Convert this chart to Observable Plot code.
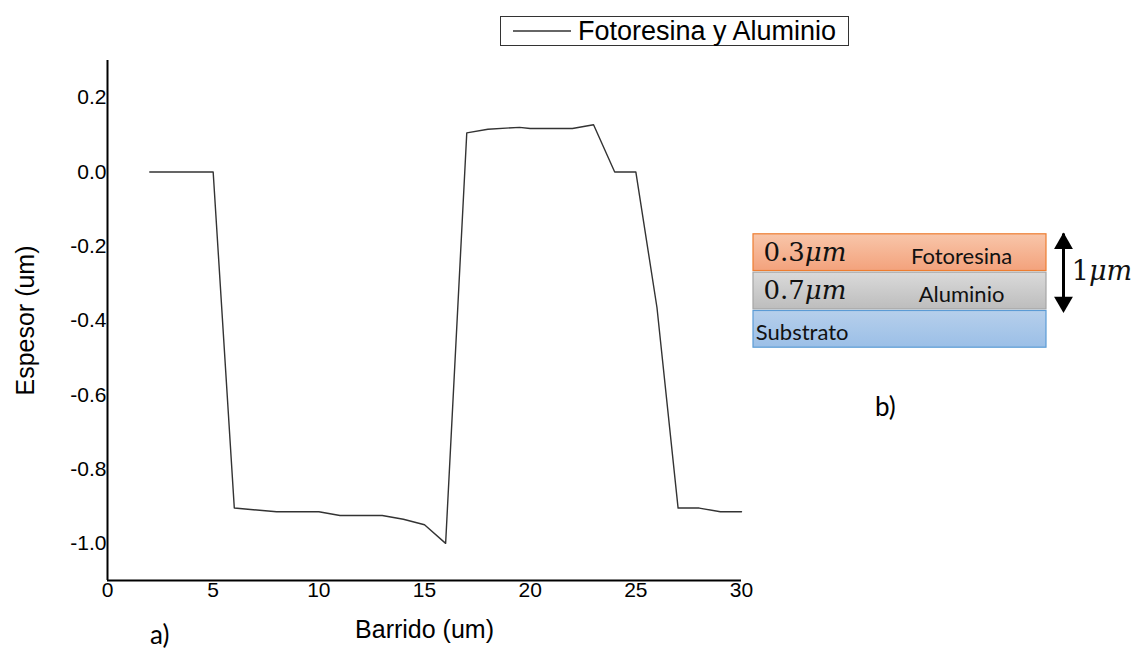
<!DOCTYPE html>
<html>
<head>
<meta charset="utf-8">
<script src="https://cdn.jsdelivr.net/npm/d3@7"></script>
<script src="https://cdn.jsdelivr.net/npm/@observablehq/plot@0.6"></script>
<style>
  html, body { margin: 0; padding: 0; background: #fff; }
  #wrap { position: relative; width: 1142px; height: 650px; overflow: hidden; font-family: "Liberation Sans", Arial, sans-serif; }
  #main, #diagram { position: absolute; }
  #main { left: 0; top: 0; }
  #diagram { left: 740px; top: 220px; }
  #legend { position: absolute; left: 500px; top: 16px; width: 347px; height: 28px; border: 1px solid #333; box-sizing: content-box; background: #fff; }
  #legend svg { position: absolute; left: 12px; top: 0; }
  #legend span { position: absolute; left: 77px; top: -1px; font-size: 27px; line-height: 30px; color: #000; white-space: nowrap; }
  .tag { position: absolute; font-family: Lato, "Noto Sans", sans-serif; font-size: 26px; color: #000; }
</style>
</head>
<body>
<div id="wrap">
  <div id="main"></div>
  <div id="diagram"></div>
  <div id="legend"><svg width="60" height="28"><line x1="0" x2="58" y1="14" y2="14" stroke="#333" stroke-width="1.3"/></svg><span id="legendText"></span></div>
  <div class="tag" id="tagA" style="left:150px; top:618px;"></div>
  <div class="tag" id="tagB" style="left:875px; top:390px;"></div>
</div>
<script>
// ---- data: profile scan ----
const seriesName = "Fotoresina y Aluminio";
const barrido = [2, 3, 4, 5, 6, 8, 10, 11, 13, 14, 15, 16, 17, 18, 19.5, 20, 22, 23, 24, 25, 26, 27, 28, 29, 30];
const espesor = [0, 0, 0, 0, -0.905, -0.915, -0.915, -0.925, -0.925, -0.935, -0.95, -1.0, 0.105, 0.115, 0.12, 0.117, 0.117, 0.127, 0, 0, -0.365, -0.905, -0.905, -0.915, -0.915];
const xTicks = [0, 5, 10, 15, 20, 25, 30];
const yTicks = [-1.0, -0.8, -0.6, -0.4, -0.2, 0.0, 0.2];
const xLabel = "Barrido (um)";
const yLabel = "Espesor (um)";

// ---- data: layer diagram ----
const layerNames = ["Fotoresina", "Aluminio", "Substrato"];
const layerThickness = ["0.3", "0.7", ""];
const totalLabel = "1";
const unitLabel = "μm";
const panelTags = ["a)", "b)"];

const profile = barrido.map((x, i) => ({x, y: espesor[i]}));

const main = Plot.plot({
  width: 1142,
  height: 650,
  marginLeft: 107,
  marginRight: 401,
  marginTop: 60,
  marginBottom: 70,
  style: {fontFamily: '"Liberation Sans", Arial, sans-serif', background: "transparent"},
  x: {domain: [0, 30]},
  y: {domain: [-1.1, 0.3]},
  marks: [
    Plot.axisX({ticks: xTicks, tickSize: 0, tickPadding: 2, fontSize: 21, label: null, tickFormat: d => String(d), color: "#000"}),
    Plot.axisY({ticks: yTicks, tickSize: 0, tickPadding: 1, fontSize: 21, label: null, tickFormat: d => d.toFixed(1), color: "#000"}),
    Plot.line(profile, {x: "x", y: "y", stroke: "#333", strokeWidth: 1.4}),
    Plot.ruleX([0], {stroke: "#000", strokeWidth: 2}),
    Plot.ruleY([-1.1], {stroke: "#000", strokeWidth: 2}),
    Plot.text([xLabel], {frameAnchor: "bottom", lineAnchor: "middle", textAnchor: "middle", dy: 49, fontSize: 25, fill: "#000"}),
    Plot.text([yLabel], {frameAnchor: "left", lineAnchor: "middle", textAnchor: "middle", dx: -82, rotate: -90, fontSize: 25, fill: "#000"})
  ]
});
document.getElementById("main").appendChild(main);
document.getElementById("legendText").textContent = seriesName;
document.getElementById("tagA").textContent = panelTags[0];
document.getElementById("tagB").textContent = panelTags[1];

// layer diagram
const layers = layerNames.map((name, i) => ({name, i, t: layerThickness[i]}));
const fillOf = {Fotoresina: "url(#gFoto)", Aluminio: "url(#gAlu)", Substrato: "url(#gSub)"};
const strokeOf = {Fotoresina: "#ed7d31", Aluminio: "#a5a5a5", Substrato: "#5b9bd5"};
const stackTop = 0;
const stackBottom = layers.filter(d => d.t !== "").length; // photoresist + aluminium = 1 μm

function gradients() {
  const defs = d3.create("svg:defs");
  const add = (id, c0, c1) => {
    const g = defs.append("linearGradient").attr("id", id).attr("x1", 0).attr("x2", 0).attr("y1", 0).attr("y2", 1);
    g.append("stop").attr("offset", "0%").attr("stop-color", c0);
    g.append("stop").attr("offset", "100%").attr("stop-color", c1);
  };
  add("gFoto", "#f8c6aa", "#f3a27c");
  add("gAlu", "#dadada", "#bdbdbd");
  add("gSub", "#b6cfeb", "#9bbfe7");
  return defs.node();
}

const mathFont = '"DejaVu Serif", "Liberation Serif", serif';
const sansFont = 'Lato, "Noto Sans", sans-serif';
const diagram = Plot.plot({
  width: 400,
  height: 200,
  marginLeft: 13,
  marginRight: 94,
  marginTop: 13,
  marginBottom: 72,
  style: {background: "transparent", overflow: "visible"},
  x: {domain: [0, 1], axis: null},
  y: {domain: [3, 0], axis: null},
  marks: [
    gradients,
    Plot.rect(layers, {x1: 0, x2: 1, y1: d => d.i, y2: d => d.i + 1, fill: d => fillOf[d.name], stroke: d => strokeOf[d.name], strokeWidth: 1.2, insetTop: 0.8, insetBottom: 0.8}),
    Plot.text(layers.filter(d => d.t !== ""), {x: 0.175, y: d => d.i + 0.5, text: "t", textAnchor: "end", fontSize: 26, fontFamily: mathFont, fill: "#111"}),
    Plot.text(layers.filter(d => d.t !== ""), {x: 0.175, y: d => d.i + 0.5, text: () => unitLabel, textAnchor: "start", fontSize: 26, fontStyle: "italic", fontFamily: mathFont, fill: "#111"}),
    Plot.text(layers.filter(d => d.t !== ""), {x: 0.71, y: d => d.i + 0.5, dy: 4, text: "name", fontSize: 22, fontFamily: sansFont, fill: "#111"}),
    Plot.text(layers.filter(d => d.t === ""), {x: 0.008, y: d => d.i + 0.5, dy: 4, text: "name", textAnchor: "start", fontSize: 22, fontFamily: sansFont, fill: "#111"}),
    Plot.link([{y1: stackTop, y2: stackBottom}], {x1: 1.058, x2: 1.058, y1: "y1", y2: "y2", stroke: "#000", strokeWidth: 3}),
    Plot.dot([stackTop], {x: 1.058, y: d => d, symbol: "triangle", r: 7, fill: "#000", stroke: null, dy: 10}),
    Plot.dot([stackBottom], {x: 1.058, y: d => d, symbol: "triangle", r: 7, fill: "#000", stroke: null, rotate: 180, dy: -8}),
    Plot.text([totalLabel], {x: 1.145, y: (stackTop + stackBottom) / 2, textAnchor: "end", fontSize: 27, fontFamily: mathFont, fill: "#111"}),
    Plot.text([unitLabel], {x: 1.145, y: (stackTop + stackBottom) / 2, textAnchor: "start", fontSize: 27, fontStyle: "italic", fontFamily: mathFont, fill: "#111"})
  ]
});
document.getElementById("diagram").appendChild(diagram);
</script>
</body>
</html>
